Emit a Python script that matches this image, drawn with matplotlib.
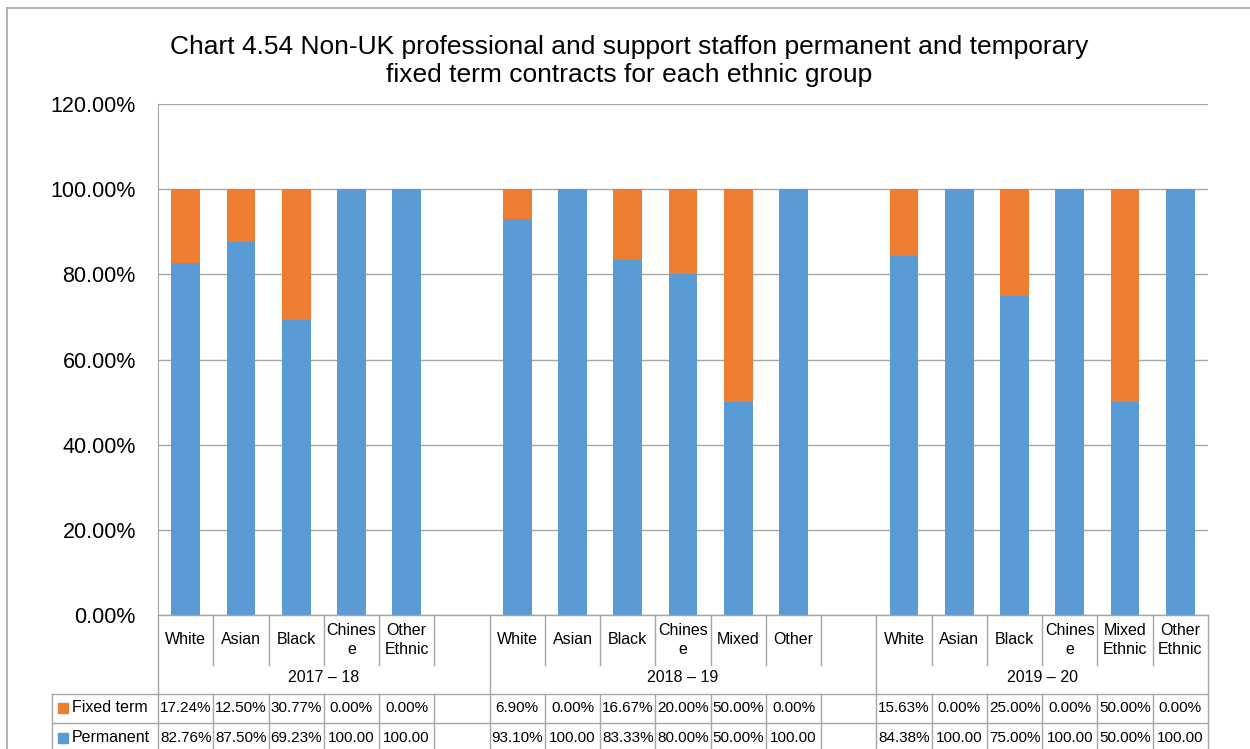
import matplotlib.pyplot as plt
import matplotlib.transforms as mtrans
from matplotlib.lines import Line2D
from matplotlib.patches import Rectangle
import numpy as np

plt.rcParams['font.family'] = ['Liberation Sans', 'DejaVu Sans']

# data (one slot per column, None = empty spacer column)
years = ['2017 – 18', '2018 – 19', '2019 – 20']
group_sizes = [6, 7, 6]
categories = ['White', 'Asian', 'Black', 'Chines\ne', 'Other\nEthnic', '',
              'White', 'Asian', 'Black', 'Chines\ne', 'Mixed', 'Other', '',
              'White', 'Asian', 'Black', 'Chines\ne', 'Mixed\nEthnic', 'Other\nEthnic']
fixed_term = [17.24, 12.50, 30.77, 0.00, 0.00, None,
              6.90, 0.00, 16.67, 20.00, 50.00, 0.00, None,
              15.63, 0.00, 25.00, 0.00, 50.00, 0.00]
permanent = [82.76, 87.50, 69.23, 100.00, 100.00, None,
             93.10, 100.00, 83.33, 80.00, 50.00, 100.00, None,
             84.38, 100.00, 75.00, 100.00, 50.00, 100.00]

ORANGE = '#ED7D31'
BLUE = '#5B9BD5'
GRID = '#a6a6a6'

W, H = 1250, 749
fig = plt.figure(figsize=(12.5, 7.49), dpi=100)

def fy(py):
    return 1 - py / H

def fx(px):
    return px / W

ax = fig.add_axes([fx(158), fy(615), fx(1208) - fx(158), fy(104) - fy(615)])

n = len(categories)
x = np.arange(n)
perm = np.array([np.nan if v is None else v for v in permanent])
fixd = np.array([np.nan if v is None else v for v in fixed_term])
ax.bar(x, perm, width=0.52, color=BLUE, zorder=3)
ax.bar(x, fixd, width=0.52, bottom=perm, color=ORANGE, zorder=3)

ax.set_xlim(-0.5, n - 0.5)
ax.set_ylim(0, 120)
ax.set_yticks(np.arange(0, 121, 20))
ax.set_yticklabels([f'{v:.2f}%' for v in np.arange(0, 121, 20)], fontsize=15.5)
ax.tick_params(axis='y', length=0, pad=16)
ax.set_xticks([])
ax.grid(axis='y', color=GRID, linewidth=1, zorder=0)
for s in ['top', 'right', 'bottom']:
    ax.spines[s].set_visible(False)
ax.spines['left'].set_color(GRID)

# data table under the chart
tr = mtrans.blended_transform_factory(ax.transData, fig.transFigure)
lw = 1

def vline(xd, y0, y1):
    fig.add_artist(Line2D([xd, xd], [fy(y0), fy(y1)], transform=tr, color=GRID, lw=lw))

# bottom axis line
fig.add_artist(Line2D([-0.5, n - 0.5], [fy(615), fy(615)], transform=tr, color=GRID, lw=lw))

bounds = np.cumsum([0] + group_sizes) - 0.5
for b in range(n + 1):
    xb = b - 0.5
    if xb in bounds:
        vline(xb, 615, H + 5)
    else:
        vline(xb, 615, 665)
        vline(xb, 694, H + 5)

for py in [694, 723]:
    fig.add_artist(Line2D([fx(52), fx(1208)], [fy(py), fy(py)], color=GRID, lw=lw))
fig.add_artist(Line2D([fx(52), fx(52)], [fy(694), fy(H + 5)], color=GRID, lw=lw))

for i, c in enumerate(categories):
    fig.text(0, fy(640), c, transform=tr, ha='center', va='center', fontsize=11.5,
             linespacing=1.4).set_x(i)

start = 0
for yr, gs in zip(years, group_sizes):
    mid = start + (gs - 1) / 2
    fig.text(0, fy(678), yr, transform=tr, ha='center', va='center', fontsize=11.5).set_x(mid)
    start += gs

def fmt(v):
    if v is None:
        return ''
    s = f'{v:.2f}'
    return s if v >= 100 else s + '%'

for i in range(n):
    t1 = fig.text(0, fy(708), fmt(fixed_term[i]), transform=tr, ha='center', va='center', fontsize=11)
    t1.set_x(i)
    t2 = fig.text(0, fy(738), fmt(permanent[i]), transform=tr, ha='center', va='center', fontsize=11)
    t2.set_x(i)

# legend keys inside the table
fig.add_artist(Rectangle((fx(58), fy(713)), fx(10), fy(703) - fy(713), color=ORANGE))
fig.text(fx(72), fy(708), 'Fixed term', ha='left', va='center', fontsize=11.5)
fig.add_artist(Rectangle((fx(58), fy(743)), fx(10), fy(733) - fy(743), color=BLUE))
fig.text(fx(72), fy(738), 'Permanent', ha='left', va='center', fontsize=11.5)

# title
fig.text(fx(629), fy(61), 'Chart 4.54 Non-UK professional and support staffon permanent and temporary\n'
         'fixed term contracts for each ethnic group', ha='center', va='center',
         fontsize=19, linespacing=1.25)

# outer chart frame (left and top edges visible)
fig.add_artist(Line2D([fx(7), fx(7)], [fy(8), 0], color=GRID, lw=1.2))
fig.add_artist(Line2D([fx(7), 1], [fy(8), fy(8)], color=GRID, lw=1.2))

fig.savefig('out.png', dpi=100)
